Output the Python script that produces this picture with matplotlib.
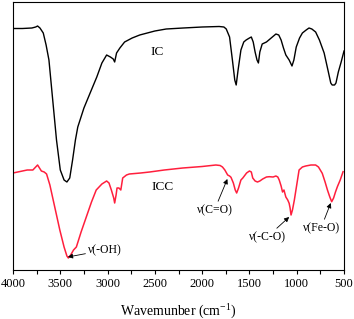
import matplotlib
matplotlib.use("Agg")
import matplotlib.pyplot as plt
from matplotlib.ticker import MultipleLocator

plt.rcParams['font.family'] = ['Liberation Serif', 'DejaVu Serif']

# IC spectrum (wavenumber, transmittance arbitrary units)
ic_wn = [4000, 3900, 3800, 3760, 3740, 3715, 3680, 3650, 3620, 3580, 3540, 3500, 3460, 3430,
         3400, 3370, 3340, 3315, 3250, 3180, 3114, 3060, 3010, 2970, 2940, 2925, 2905, 2870,
         2820, 2740, 2660, 2500, 2380, 2200, 2000, 1820, 1770, 1745, 1710, 1680, 1655, 1640,
         1620, 1590, 1560, 1535, 1500, 1480, 1460, 1440, 1420, 1405, 1390, 1365, 1320, 1270,
         1220, 1190, 1165, 1140, 1115, 1080, 1050, 1030, 1005, 970, 940, 900, 870, 840, 800,
         760, 710, 670, 640, 625, 600, 585, 560, 530, 500]
ic_t = [241.5, 241.5, 242, 243, 244, 242, 237, 225, 210, 170, 130, 100, 90, 88,
        92, 110, 130, 143, 162, 178, 193, 207, 215, 213, 211, 208, 217, 222,
        228, 232, 235, 239, 241, 242, 243, 243.5, 243, 241, 233, 210, 190, 185,
        200, 220, 228, 230, 232, 233, 228, 218, 210, 207, 218, 226, 228, 232,
        236, 235, 230, 222, 215, 210, 204, 210, 223, 232, 237, 240, 242, 241, 238,
        230, 217, 200, 187, 185, 185, 187, 198, 208, 219]

# ICC spectrum
icc_wn = [4000, 3950, 3900, 3850, 3790, 3760, 3740, 3720, 3700, 3670, 3645, 3610, 3575, 3540,
          3505, 3460, 3430, 3415, 3390, 3360, 3330, 3280, 3225, 3170, 3120, 3060, 3010, 2985,
          2960, 2935, 2925, 2910, 2900, 2880, 2860, 2840, 2800, 2770, 2650, 2555, 2400, 2205,
          2000, 1855, 1810, 1785, 1760, 1730, 1710, 1695, 1670, 1650, 1635, 1615, 1590, 1570,
          1530, 1500, 1480, 1465, 1440, 1415, 1390, 1360, 1320, 1290, 1250, 1220, 1200, 1185,
          1165, 1150, 1135, 1115, 1095, 1080, 1070, 1060, 1045, 1025, 1000, 975, 940, 905,
          850, 800, 770, 730, 700, 675, 650, 630, 610, 590, 570, 540, 510]
icc_t = [97, 98, 99, 100, 100, 103, 105, 102, 99, 98, 96, 85, 70, 55,
         40, 23, 14, 12, 15, 20, 23, 38, 53, 68, 80, 86, 89, 87,
         80, 72, 67, 75, 82, 82, 80, 92, 95, 96, 97, 98, 100, 102,
         103.5, 105, 104.5, 103, 100, 95, 94, 92.7, 87, 80, 77, 82, 90, 92,
         97, 99, 98, 92, 89, 88, 89, 91, 93, 93.3, 93, 94, 93, 90,
         84, 78, 80, 73, 70, 66.7, 62, 55, 60, 70, 85, 100, 103, 104,
         105, 105, 103, 96.7, 88, 80, 73, 68.3, 72, 78, 83.3, 90, 98.3]

curve_labels = ["IC", "ICC"]
band_labels = ["ν(-OH)", "ν(C=O)", "ν(-C-O)", "ν(Fe-O)"]
band_tips = [(3420, 13), (1733, 91), (1080, 53), (640, 67)]
band_text = [(3205, 20), (1870, 60), (1312, 33), (743, 42)]

fig = plt.figure(figsize=(3.54, 3.19), dpi=100)
ax = fig.add_axes([13/354, 1-270/319, 331/354, 268/319])

ax.plot(ic_wn, ic_t, color='black', lw=1.0)
ax.plot(icc_wn, icc_t, color='#ff1f3d', lw=1.1)

ax.set_xlim(4000, 500)
ax.set_ylim(0, 268)
ax.set_yticks([])
ax.xaxis.set_major_locator(MultipleLocator(500))
ax.xaxis.set_minor_locator(MultipleLocator(250))
ax.tick_params(axis='x', which='both', direction='out', length=3, width=0.8,
               labelsize=9, pad=2.5, top=False)
for s in ax.spines.values():
    s.set_linewidth(0.8)
ax.set_xlabel("Wavemunber (cm$^{\\mathregular{-1}}$)", fontsize=10, labelpad=8)

ax.text(2471, 218, curve_labels[0], fontsize=9.5, ha='center', va='center')
ax.text(2419, 83, curve_labels[1], fontsize=9.5, ha='center', va='center')

aprops = dict(arrowstyle='-|>', color='black', lw=0.6, mutation_scale=7, shrinkA=0, shrinkB=0)
for lab, tip, tx in zip(band_labels, band_tips, band_text):
    ha = 'left' if lab == "ν(-OH)" else 'center'
    ax.annotate(lab, xy=tip, xytext=tx, fontsize=8.5, ha=ha, va='center',
                arrowprops=aprops)

fig.savefig("out.png", dpi=100)
